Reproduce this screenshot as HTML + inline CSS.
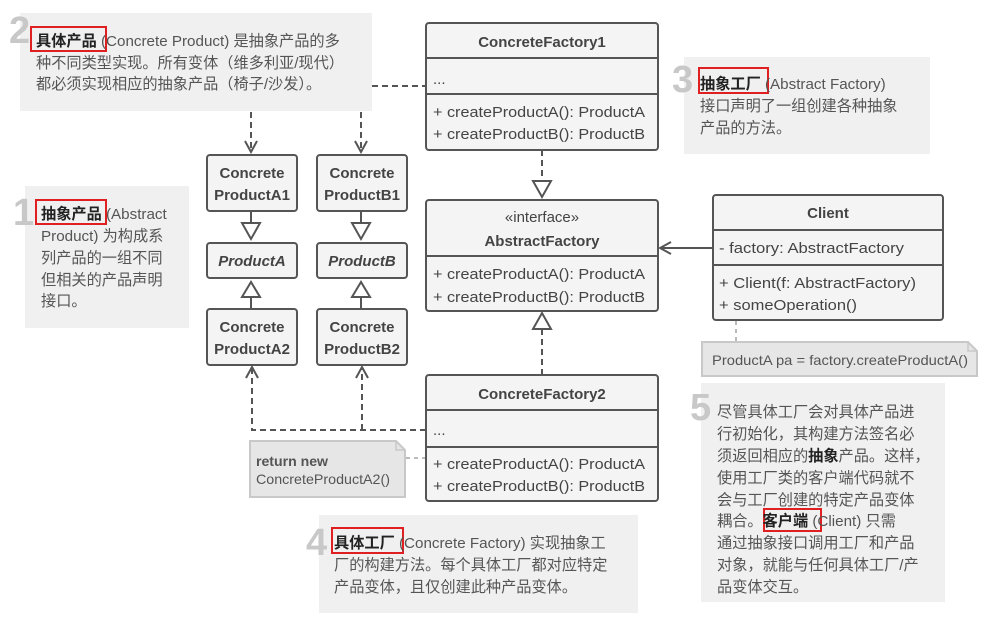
<!DOCTYPE html>
<html><head><meta charset="utf-8"><style>
html,body{margin:0;padding:0;background:#fff;}
svg{display:block;}
text{font-family:"Liberation Sans","Noto Sans CJK SC",sans-serif;fill:#444;}
.c{font-size:15px;}
.b{font-weight:bold;}
.z{font-size:15.2px;fill:#555;}
.n{font-size:38px;font-weight:bold;fill:#c8c8c8;}
</style></head><body>
<svg width="986" height="624" viewBox="0 0 986 624" xmlns="http://www.w3.org/2000/svg">
<defs>
<marker id="open" markerWidth="14" markerHeight="14" refX="12" refY="7" orient="auto" markerUnits="userSpaceOnUse">
<path d="M1,1 L12,7 L1,13" fill="none" stroke="#555" stroke-width="2" stroke-dasharray="none"/></marker>
</defs>
<g fill="#f0f0f0">
<rect x="20" y="13" width="352" height="98"/>
<rect x="25" y="186" width="164" height="142"/>
<rect x="684" y="57" width="246" height="97"/>
<rect x="319" y="515" width="319" height="98"/>
<rect x="701" y="383" width="244" height="219"/>
</g>
<text class="n" x="9" y="43">2</text>
<text class="n" x="13" y="225">1</text>
<text class="n" x="672" y="92">3</text>
<text class="n" x="306" y="555">4</text>
<text class="n" x="690" y="420">5</text>
<g fill="none" stroke="#e02020" stroke-width="2">
<rect x="31" y="27" width="75" height="24"/>
<rect x="36" y="200" width="70" height="24"/>
<rect x="699" y="68" width="69" height="25"/>
<rect x="332" y="528" width="71" height="25"/>
<rect x="764" y="509" width="57" height="22"/>
</g>
<text class="z" x="36" y="46"><tspan class="b" style="fill:#222">具体产品</tspan>  (Concrete Product) 是抽象产品的多</text>
<text class="z" x="36" y="68">种不同类型实现。所有变体（维多利亚/现代）</text>
<text class="z" x="36" y="89">都必须实现相应的抽象产品（椅子/沙发）。</text>
<text class="z" x="41" y="219"><tspan class="b" style="fill:#222">抽象产品</tspan>  (Abstract</text>
<text class="z" x="41" y="241">Product) 为构成系</text>
<text class="z" x="41" y="263">列产品的一组不同</text>
<text class="z" x="41" y="285">但相关的产品声明</text>
<text class="z" x="41" y="306">接口。</text>
<text class="z" x="700" y="89"><tspan class="b" style="fill:#222">抽象工厂</tspan>  (Abstract Factory)</text>
<text class="z" x="700" y="111">接口声明了一组创建各种抽象</text>
<text class="z" x="700" y="133">产品的方法。</text>
<text class="z" x="334" y="548"><tspan class="b" style="fill:#222">具体工厂</tspan>  (Concrete Factory) 实现抽象工</text>
<text class="z" x="334" y="570">厂的构建方法。每个具体工厂都对应特定</text>
<text class="z" x="334" y="592">产品变体，且仅创建此种产品变体。</text>
<text class="z" x="717" y="417">尽管具体工厂会对具体产品进</text>
<text class="z" x="717" y="439">行初始化，其构建方法签名必</text>
<text class="z" x="717" y="461">须返回相应的<tspan class="b" style="fill:#222">抽象</tspan>产品。这样，</text>
<text class="z" x="717" y="483">使用工厂类的客户端代码就不</text>
<text class="z" x="717" y="505">会与工厂创建的特定产品变体</text>
<text class="z" x="717" y="526">耦合。<tspan class="b" style="fill:#222">客户端</tspan>  (Client) 只需</text>
<text class="z" x="717" y="548">通过抽象接口调用工厂和产品</text>
<text class="z" x="717" y="570">对象，就能与任何具体工厂/产</text>
<text class="z" x="717" y="592">品变体交互。</text>
<g fill="none" stroke="#555" stroke-width="2">
<path d="M372,86 H426" stroke-dasharray="6,4"/>
<path d="M251,112 V152" stroke-dasharray="6,4" marker-end="url(#open)"/>
<path d="M361,112 V152" stroke-dasharray="6,4" marker-end="url(#open)"/>
<path d="M251,211 V223 M361,211 V223"/>
<path d="M242,223 H260 L251,239 Z M352,223 H370 L361,239 Z" fill="#fff"/>
<path d="M251,297 V309 M361,297 V309"/>
<path d="M242,297 H260 L251,282 Z M352,297 H370 L361,282 Z" fill="#fff"/>
<path d="M542,150 V181" stroke-dasharray="6,4"/>
<path d="M533,181 H551 L542,197 Z" fill="#fff"/>
<path d="M542,375 V329" stroke-dasharray="6,4"/>
<path d="M533,329 H551 L542,313 Z" fill="#fff"/>
<path d="M712,248 H660" marker-end="url(#open)"/>
<path d="M426,430 H252 V367" stroke-dasharray="6,4" marker-end="url(#open)"/>
<path d="M362,430 V367" stroke-dasharray="6,4" marker-end="url(#open)"/>
</g>
<g fill="none" stroke="#bbb" stroke-width="2" stroke-dasharray="4,4">
<path d="M736,321 V342"/>
<path d="M406,458 H426"/>
</g>
<path d="M702,342 H968 L977,351 V376 H702 Z" fill="#e6e6e6" stroke="#c8c8c8" stroke-width="2"/>
<path d="M968,342 V351 H977" fill="none" stroke="#c8c8c8" stroke-width="1.5"/>
<text x="712" y="365" style="font-size:14px;fill:#555" textLength="256" lengthAdjust="spacingAndGlyphs">ProductA pa = factory.createProductA()</text>
<path d="M250,441 H396 L405,450 V497 H250 Z" fill="#e6e6e6" stroke="#c8c8c8" stroke-width="2"/>
<path d="M396,441 V450 H405" fill="none" stroke="#c8c8c8" stroke-width="1.5"/>
<text x="256" y="466" style="font-size:14px;font-weight:bold;fill:#555" textLength="72" lengthAdjust="spacingAndGlyphs">return new</text>
<text x="256" y="484" style="font-size:14px;fill:#555" textLength="134" lengthAdjust="spacingAndGlyphs">ConcreteProductA2()</text>
<g fill="#f4f4f4" stroke="#555" stroke-width="2">
<rect x="426" y="23" width="232" height="127" rx="3"/>
<rect x="426" y="200" width="232" height="111" rx="3"/>
<rect x="426" y="375" width="232" height="126" rx="3"/>
<rect x="713" y="195" width="230" height="125" rx="3"/>
<rect x="207" y="155" width="90" height="56" rx="3"/>
<rect x="317" y="155" width="90" height="56" rx="3"/>
<rect x="207" y="243" width="90" height="35" rx="3"/>
<rect x="317" y="243" width="90" height="35" rx="3"/>
<rect x="207" y="309" width="90" height="56" rx="3"/>
<rect x="317" y="309" width="90" height="56" rx="3"/>
</g>
<g stroke="#555" stroke-width="2">
<path d="M426,58 H658 M426,94 H658"/>
<path d="M426,256 H658"/>
<path d="M426,410 H658 M426,447 H658"/>
<path d="M713,230 H943 M713,265 H943"/>
</g>
<text class="c b" x="542" y="47" text-anchor="middle">ConcreteFactory1</text>
<text class="c" x="433" y="84">...</text>
<text class="c" x="433" y="117" textLength="212" lengthAdjust="spacingAndGlyphs">+ createProductA(): ProductA</text>
<text class="c" x="433" y="139" textLength="212" lengthAdjust="spacingAndGlyphs">+ createProductB(): ProductB</text>
<text class="c" x="542" y="222" text-anchor="middle">«interface»</text>
<text class="c b" x="542" y="246" text-anchor="middle">AbstractFactory</text>
<text class="c" x="433" y="279" textLength="212" lengthAdjust="spacingAndGlyphs">+ createProductA(): ProductA</text>
<text class="c" x="433" y="302" textLength="212" lengthAdjust="spacingAndGlyphs">+ createProductB(): ProductB</text>
<text class="c b" x="542" y="399" text-anchor="middle">ConcreteFactory2</text>
<text class="c" x="433" y="435">...</text>
<text class="c" x="433" y="469" textLength="212" lengthAdjust="spacingAndGlyphs">+ createProductA(): ProductA</text>
<text class="c" x="433" y="491" textLength="212" lengthAdjust="spacingAndGlyphs">+ createProductB(): ProductB</text>
<text class="c b" x="828" y="218" text-anchor="middle">Client</text>
<text class="c" x="719" y="253" textLength="185" lengthAdjust="spacingAndGlyphs">- factory: AbstractFactory</text>
<text class="c" x="719" y="288" textLength="197" lengthAdjust="spacingAndGlyphs">+ Client(f: AbstractFactory)</text>
<text class="c" x="719" y="310" textLength="138" lengthAdjust="spacingAndGlyphs">+ someOperation()</text>
<text class="c b" x="252" y="178" text-anchor="middle">Concrete</text>
<text class="c b" x="252" y="200" text-anchor="middle">ProductA1</text>
<text class="c b" x="362" y="178" text-anchor="middle">Concrete</text>
<text class="c b" x="362" y="200" text-anchor="middle">ProductB1</text>
<text class="c b" x="252" y="266" text-anchor="middle" font-style="italic">ProductA</text>
<text class="c b" x="362" y="266" text-anchor="middle" font-style="italic">ProductB</text>
<text class="c b" x="252" y="332" text-anchor="middle">Concrete</text>
<text class="c b" x="252" y="354" text-anchor="middle">ProductA2</text>
<text class="c b" x="362" y="332" text-anchor="middle">Concrete</text>
<text class="c b" x="362" y="354" text-anchor="middle">ProductB2</text>
</svg>
</body></html>
